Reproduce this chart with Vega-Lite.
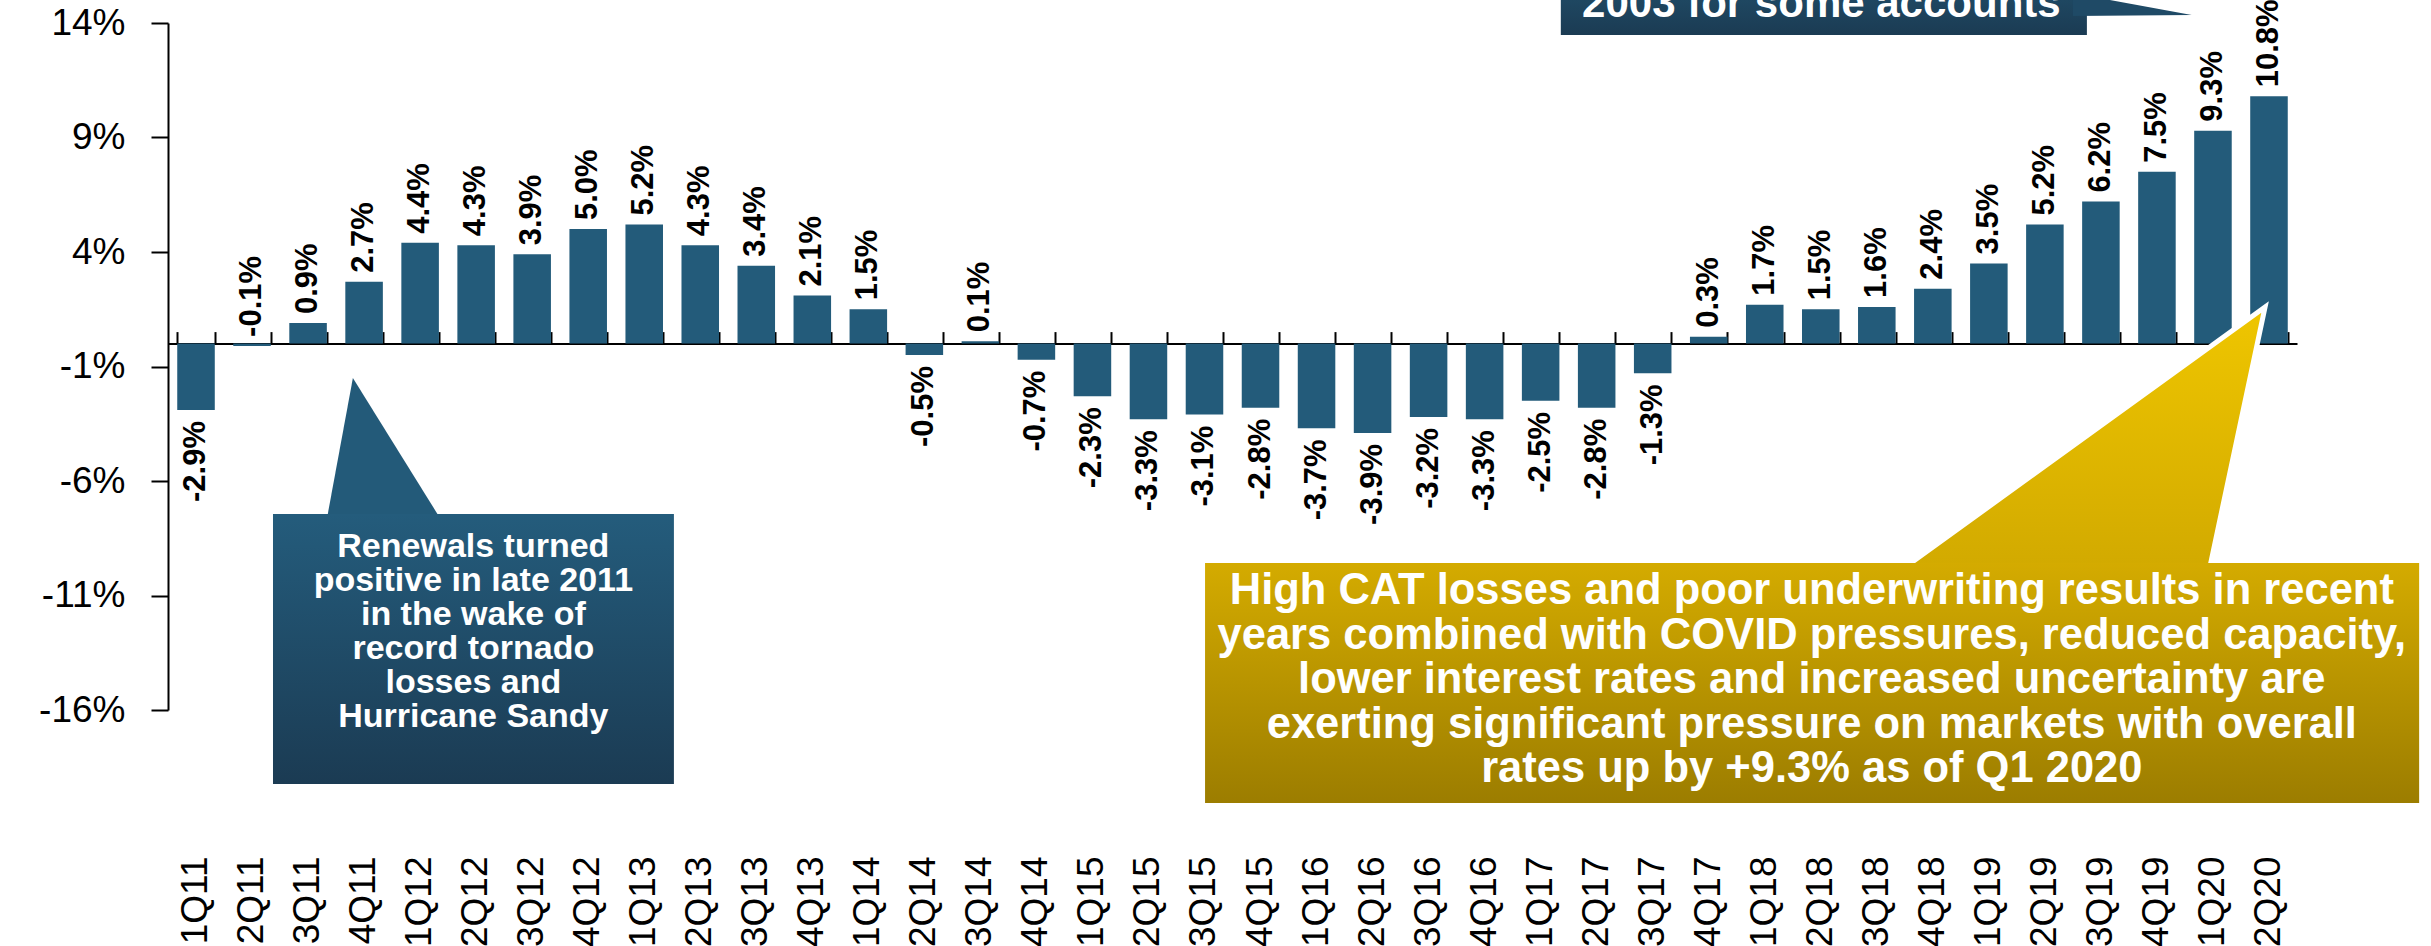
{
  "$schema": "https://vega.github.io/schema/vega-lite/v6.json",
  "width": 2129,
  "height": 687,
  "autosize": {"type": "none"},
  "padding": {"left": 168, "top": 23, "right": 134, "bottom": 236},
  "background": "white",
  "config": {"view": {"stroke": null}, "font": "Liberation Sans"},
  "datasets": {
    "rates": [
      {"q": "1Q11", "v": -2.9, "lab": "-2.9%"},
      {"q": "2Q11", "v": -0.1, "lab": "-0.1%"},
      {"q": "3Q11", "v": 0.9, "lab": "0.9%"},
      {"q": "4Q11", "v": 2.7, "lab": "2.7%"},
      {"q": "1Q12", "v": 4.4, "lab": "4.4%"},
      {"q": "2Q12", "v": 4.3, "lab": "4.3%"},
      {"q": "3Q12", "v": 3.9, "lab": "3.9%"},
      {"q": "4Q12", "v": 5.0, "lab": "5.0%"},
      {"q": "1Q13", "v": 5.2, "lab": "5.2%"},
      {"q": "2Q13", "v": 4.3, "lab": "4.3%"},
      {"q": "3Q13", "v": 3.4, "lab": "3.4%"},
      {"q": "4Q13", "v": 2.1, "lab": "2.1%"},
      {"q": "1Q14", "v": 1.5, "lab": "1.5%"},
      {"q": "2Q14", "v": -0.5, "lab": "-0.5%"},
      {"q": "3Q14", "v": 0.1, "lab": "0.1%"},
      {"q": "4Q14", "v": -0.7, "lab": "-0.7%"},
      {"q": "1Q15", "v": -2.3, "lab": "-2.3%"},
      {"q": "2Q15", "v": -3.3, "lab": "-3.3%"},
      {"q": "3Q15", "v": -3.1, "lab": "-3.1%"},
      {"q": "4Q15", "v": -2.8, "lab": "-2.8%"},
      {"q": "1Q16", "v": -3.7, "lab": "-3.7%"},
      {"q": "2Q16", "v": -3.9, "lab": "-3.9%"},
      {"q": "3Q16", "v": -3.2, "lab": "-3.2%"},
      {"q": "4Q16", "v": -3.3, "lab": "-3.3%"},
      {"q": "1Q17", "v": -2.5, "lab": "-2.5%"},
      {"q": "2Q17", "v": -2.8, "lab": "-2.8%"},
      {"q": "3Q17", "v": -1.3, "lab": "-1.3%"},
      {"q": "4Q17", "v": 0.3, "lab": "0.3%"},
      {"q": "1Q18", "v": 1.7, "lab": "1.7%"},
      {"q": "2Q18", "v": 1.5, "lab": "1.5%"},
      {"q": "3Q18", "v": 1.6, "lab": "1.6%"},
      {"q": "4Q18", "v": 2.4, "lab": "2.4%"},
      {"q": "1Q19", "v": 3.5, "lab": "3.5%"},
      {"q": "2Q19", "v": 5.2, "lab": "5.2%"},
      {"q": "3Q19", "v": 6.2, "lab": "6.2%"},
      {"q": "4Q19", "v": 7.5, "lab": "7.5%"},
      {"q": "1Q20", "v": 9.3, "lab": "9.3%"},
      {"q": "2Q20", "v": 10.8, "lab": "10.8%"}
    ]
  },
  "layer": [
    {
      "data": {"name": "rates"},
      "mark": {"type": "bar", "color": "#235b7a"},
      "encoding": {
        "x": {"field": "q", "type": "ordinal", "sort": null,
          "scale": {"type": "band", "paddingInner": 0.33, "paddingOuter": 0.165, "domain": ["1Q11","2Q11","3Q11","4Q11","1Q12","2Q12","3Q12","4Q12","1Q13","2Q13","3Q13","4Q13","1Q14","2Q14","3Q14","4Q14","1Q15","2Q15","3Q15","4Q15","1Q16","2Q16","3Q16","4Q16","1Q17","2Q17","3Q17","4Q17","1Q18","2Q18","3Q18","4Q18","1Q19","2Q19","3Q19","4Q19","1Q20","2Q20"]},
          "axis": {"orient": "top", "offset": -320.6, "labels": false, "title": null, "domainColor": "#000000", "domainWidth": 2, "tickColor": "#000000", "tickWidth": 2, "tickSize": 12, "tickBand": "extent", "grid": false}},
        "y": {"field": "v", "type": "quantitative",
          "scale": {"domain": [-16, 14], "nice": false},
          "axis": {"orient": "left", "values": [-16, -11, -6, -1, 4, 9, 14], "labelExpr": "datum.value + '%'", "title": null, "grid": false, "domain": true, "domainColor": "#000000", "domainWidth": 2, "ticks": true, "tickColor": "#000000", "tickWidth": 2, "tickSize": 17, "labels": true, "labelPadding": 26, "labelFontSize": 37, "labelColor": "#000000", "labelFont": "Liberation Sans"}}
      }
    },
    {
      "data": {"name": "rates"},
      "transform": [{"filter": "datum.v >= -0.1"}],
      "mark": {"type": "text", "angle": -90, "align": "left", "baseline": "middle", "dx": 9, "fontSize": 31, "fontWeight": "bold", "font": "Liberation Sans", "color": "#000000"},
      "encoding": {
        "x": {"field": "q", "type": "ordinal", "sort": null,
          "scale": {"type": "band", "paddingInner": 0.33, "paddingOuter": 0.165, "domain": ["1Q11","2Q11","3Q11","4Q11","1Q12","2Q12","3Q12","4Q12","1Q13","2Q13","3Q13","4Q13","1Q14","2Q14","3Q14","4Q14","1Q15","2Q15","3Q15","4Q15","1Q16","2Q16","3Q16","4Q16","1Q17","2Q17","3Q17","4Q17","1Q18","2Q18","3Q18","4Q18","1Q19","2Q19","3Q19","4Q19","1Q20","2Q20"]},
          "axis": {"orient": "bottom", "title": null, "domain": false, "ticks": false, "labelAngle": -90, "labelFontSize": 37, "labelPadding": 146, "labelColor": "#000000", "labelFont": "Liberation Sans", "grid": false}},
        "y": {"field": "v", "type": "quantitative", "scale": {"domain": [-16, 14], "nice": false}, "axis": null},
        "text": {"field": "lab"}
      }
    },
    {
      "data": {"name": "rates"},
      "transform": [{"filter": "datum.v < -0.1"}],
      "mark": {"type": "text", "angle": -90, "align": "right", "baseline": "middle", "dx": -11, "fontSize": 31, "fontWeight": "bold", "font": "Liberation Sans", "color": "#000000"},
      "encoding": {
        "x": {"field": "q", "type": "ordinal", "sort": null,
          "scale": {"type": "band", "paddingInner": 0.33, "paddingOuter": 0.165, "domain": ["1Q11","2Q11","3Q11","4Q11","1Q12","2Q12","3Q12","4Q12","1Q13","2Q13","3Q13","4Q13","1Q14","2Q14","3Q14","4Q14","1Q15","2Q15","3Q15","4Q15","1Q16","2Q16","3Q16","4Q16","1Q17","2Q17","3Q17","4Q17","1Q18","2Q18","3Q18","4Q18","1Q19","2Q19","3Q19","4Q19","1Q20","2Q20"]}, "axis": null},
        "y": {"field": "v", "type": "quantitative", "scale": {"domain": [-16, 14], "nice": false}, "axis": null},
        "text": {"field": "lab"}
      }
    },
    {
      "data": {"values": [{"ay": -7.6, "ax": 2.84, "ax2": 4.85}, {"ay": -1.5, "ax": 3.3, "ax2": 3.3}]},
      "mark": {"type": "area", "orient": "horizontal", "color": "#235a79"},
      "encoding": {
        "x": {"field": "ax", "type": "quantitative", "scale": {"domain": [0, 38], "nice": false, "zero": false}, "axis": null},
        "x2": {"field": "ax2"},
        "y": {"field": "ay", "type": "quantitative", "scale": {"domain": [-16, 14], "nice": false}, "axis": null}
      }
    },
    {
      "data": {"values": [{"ax": 1.874, "ax2": 9.03, "ay": -7.44, "ay2": -19.23}]},
      "mark": {"type": "rect", "fill": {"gradient": "linear", "x1": 0, "y1": 0, "x2": 0, "y2": 1, "stops": [{"offset": 0, "color": "#245c7c"}, {"offset": 1, "color": "#1b3b53"}]}},
      "encoding": {
        "x": {"field": "ax", "type": "quantitative", "scale": {"domain": [0, 38], "nice": false, "zero": false}, "axis": null},
        "x2": {"field": "ax2"},
        "y": {"field": "ay", "type": "quantitative", "scale": {"domain": [-16, 14], "nice": false}, "axis": null},
        "y2": {"field": "ay2"}
      }
    },
    {
      "data": {"values": [{"ax": 5.45, "ay": -8.88, "t": "Renewals turned\npositive in late 2011\nin the wake of\nrecord tornado\nlosses and\nHurricane Sandy"}]},
      "mark": {"type": "text", "lineBreak": "\n", "align": "center", "baseline": "middle", "font": "Liberation Sans", "fontWeight": "bold", "fontSize": 34, "lineHeight": 34, "color": "#ffffff"},
      "encoding": {
        "x": {"field": "ax", "type": "quantitative", "scale": {"domain": [0, 38], "nice": false, "zero": false}, "axis": null},
        "y": {"field": "ay", "type": "quantitative", "scale": {"domain": [-16, 14], "nice": false}, "axis": null},
        "text": {"field": "t"}
      }
    },
    {
      "data": {"values": [{"ay": -9.7, "ax": 31.04, "ax2": 36.45}, {"ay": 1.6, "ax": 37.43, "ax2": 37.43}]},
      "mark": {"type": "area", "orient": "horizontal", "stroke": "#ffffff", "strokeWidth": 5, "fill": {"gradient": "linear", "x1": 0, "y1": 0, "x2": 0, "y2": 1, "stops": [{"offset": 0, "color": "#efc600"}, {"offset": 1, "color": "#d2aa00"}]}},
      "encoding": {
        "x": {"field": "ax", "type": "quantitative", "scale": {"domain": [0, 38], "nice": false, "zero": false}, "axis": null},
        "x2": {"field": "ax2"},
        "y": {"field": "ay", "type": "quantitative", "scale": {"domain": [-16, 14], "nice": false}, "axis": null}
      }
    },
    {
      "data": {"values": [{"ax": 18.51, "ax2": 40.18, "ay": -9.58, "ay2": -20.06}]},
      "mark": {"type": "rect", "fill": {"gradient": "linear", "x1": 0, "y1": 0, "x2": 0, "y2": 1, "stops": [{"offset": 0, "color": "#d4ab00"}, {"offset": 1, "color": "#9c7d00"}]}},
      "encoding": {
        "x": {"field": "ax", "type": "quantitative", "scale": {"domain": [0, 38], "nice": false, "zero": false}, "axis": null},
        "x2": {"field": "ax2"},
        "y": {"field": "ay", "type": "quantitative", "scale": {"domain": [-16, 14], "nice": false}, "axis": null},
        "y2": {"field": "ay2"}
      }
    },
    {
      "data": {"values": [{"ax": 29.34, "ay": -10.8, "t": "High CAT losses and poor underwriting results in recent\nyears combined with COVID pressures, reduced capacity,\nlower interest rates and increased uncertainty are\nexerting significant pressure on markets  with overall\nrates up by +9.3% as of Q1 2020"}]},
      "mark": {"type": "text", "lineBreak": "\n", "align": "center", "baseline": "middle", "font": "Liberation Sans", "fontWeight": "bold", "fontSize": 43.5, "lineHeight": 44.6, "color": "#ffffff"},
      "encoding": {
        "x": {"field": "ax", "type": "quantitative", "scale": {"domain": [0, 38], "nice": false, "zero": false}, "axis": null},
        "y": {"field": "ay", "type": "quantitative", "scale": {"domain": [-16, 14], "nice": false}, "axis": null},
        "text": {"field": "t"}
      }
    },
    {
      "data": {"values": [{"ax": 24.86, "ax2": 34.25, "ay": 13.48, "ay2": 16.5}]},
      "mark": {"type": "rect", "fill": {"gradient": "linear", "x1": 0, "y1": 0, "x2": 0, "y2": 1, "stops": [{"offset": 0, "color": "#22536f"}, {"offset": 1, "color": "#1b3b53"}]}},
      "encoding": {
        "x": {"field": "ax", "type": "quantitative", "scale": {"domain": [0, 38], "nice": false, "zero": false}, "axis": null},
        "x2": {"field": "ax2"},
        "y": {"field": "ay", "type": "quantitative", "scale": {"domain": [-16, 14], "nice": false}, "axis": null},
        "y2": {"field": "ay2"}
      }
    },
    {
      "data": {"values": [{"ax": 34.0, "ay": 14.31, "ay2": 15.3}, {"ax": 36.12, "ay": 14.35, "ay2": 14.35}]},
      "mark": {"type": "area", "orient": "vertical", "color": "#1f4a66"},
      "encoding": {
        "x": {"field": "ax", "type": "quantitative", "scale": {"domain": [0, 38], "nice": false, "zero": false}, "axis": null},
        "y": {"field": "ay", "type": "quantitative", "scale": {"domain": [-16, 14], "nice": false}, "axis": null},
        "y2": {"field": "ay2"}
      }
    },
    {
      "data": {"values": [{"ax": 25.24, "ay": 14.26, "t": "2003 for some accounts"}]},
      "mark": {"type": "text", "align": "left", "baseline": "alphabetic", "font": "Liberation Sans", "fontWeight": "bold", "fontSize": 42, "color": "#ffffff"},
      "encoding": {
        "x": {"field": "ax", "type": "quantitative", "scale": {"domain": [0, 38], "nice": false, "zero": false}, "axis": null},
        "y": {"field": "ay", "type": "quantitative", "scale": {"domain": [-16, 14], "nice": false}, "axis": null},
        "text": {"field": "t"}
      }
    }
  ],
  "resolve": {"scale": {"x": "independent", "y": "independent"}, "axis": {"x": "independent", "y": "independent"}}
}
